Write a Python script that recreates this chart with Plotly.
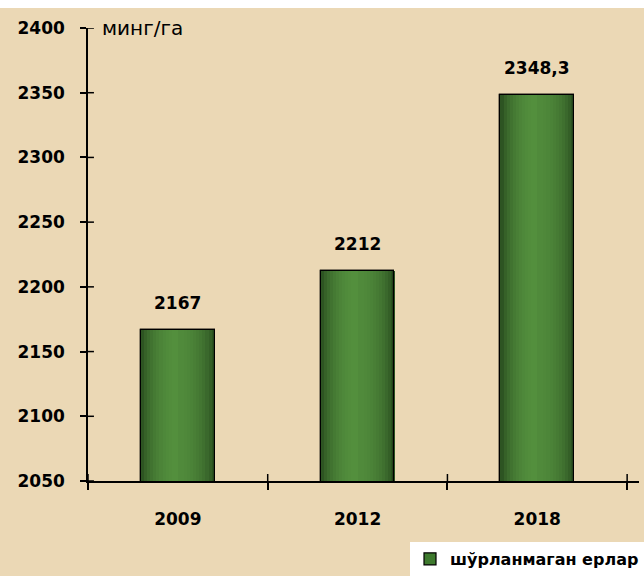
import math
import plotly.graph_objects as go

# Data
years = ["2009", "2012", "2018"]
areas = [2167, 2212, 2348.3]
value_labels = ["2167", "2212", "2348,3"]
series_name = "шўрланмаган ерлар"
unit_label = "минг/га"
y_ticks = [2050, 2100, 2150, 2200, 2250, 2300, 2350, 2400]

BAR_W = 0.41
N_SLICES = 24
FONT = "DejaVu Sans"


def shade(t):
    # cylinder-like shading: dark edges, light centre, right edge darker
    c = math.sin(math.pi * t) ** 0.6
    if t > 0.5:
        c *= 0.93
    dark = (36, 70, 28)
    light = (84, 144, 62)
    r, g, b = (int(d + (l - d) * c) for d, l in zip(dark, light))
    return f"rgb({r},{g},{b})"


fig = go.Figure()

# base bars (also supply the legend entry)
fig.add_trace(go.Bar(
    x=years, y=areas, width=BAR_W, name=series_name,
    marker=dict(color="#3E7A2E", line=dict(color="black", width=1.2)),
    showlegend=True, hoverinfo="skip",
))

# horizontal gradient made of thin slices
sw = BAR_W / N_SLICES
for k in range(N_SLICES):
    t = (k + 0.5) / N_SLICES
    fig.add_trace(go.Bar(
        x=years, y=areas, width=sw * 1.05, offset=-BAR_W / 2 + k * sw,
        marker=dict(color=shade(t), line=dict(width=0)),
        showlegend=False, hoverinfo="skip",
    ))

# outline on top
fig.add_trace(go.Bar(
    x=years, y=areas, width=BAR_W,
    marker=dict(color="rgba(0,0,0,0)", line=dict(color="black", width=1.2)),
    showlegend=False, hoverinfo="skip",
))

# value labels (category index positions)
for i, (v, lab) in enumerate(zip(areas, value_labels)):
    fig.add_annotation(x=i, y=v, text=f"<b>{lab}</b>", showarrow=False,
                       yshift=27, font=dict(family=FONT, size=17, color="black"))

# unit label next to the top tick
fig.add_annotation(xref="paper", yref="y", x=0.0216, y=y_ticks[-1], xanchor="left",
                   yanchor="middle", text=unit_label, showarrow=False,
                   font=dict(family=FONT, size=20, color="black"))

shapes = []
# inner halves of the crossing ticks
for i in range(len(years) + 1):
    shapes.append(dict(type="line", xref="x", yref="y domain", x0=i - 0.5, x1=i - 0.5,
                       y0=0, y1=7 / 454, line=dict(color="black", width=1.5)))
for v in y_ticks:
    shapes.append(dict(type="line", xref="x domain", yref="y", x0=0, x1=6 / 556,
                       y0=v, y1=v, line=dict(color="black", width=1.5)))
# white strip along the top edge
shapes.append(dict(type="rect", xref="paper", yref="paper", x0=-0.2, x1=1.1,
                   y0=1 + 20 / 454, y1=1.2, fillcolor="white", line=dict(width=0),
                   layer="above"))

fig.update_layout(
    width=644, height=576,
    margin=dict(l=88, r=0, t=28, b=94),
    paper_bgcolor="#EBD8B5",
    plot_bgcolor="rgba(0,0,0,0)",
    barmode="overlay",
    bargap=0,
    shapes=shapes,
    font=dict(family=FONT, color="black"),
    xaxis=dict(
        type="category", range=[-0.5, 2.566], tickson="boundaries",
        showline=True, linecolor="black", linewidth=1.5,
        ticks="outside", ticklen=7, tickwidth=1.5, tickcolor="black",
        showgrid=False, ticklabelstandoff=22,
        tickfont=dict(family=FONT, size=17, color="black", weight="bold"),
    ),
    yaxis=dict(
        range=[2050, 2400], tickvals=y_ticks,
        showline=True, linecolor="black", linewidth=1.5,
        ticks="outside", ticklen=6, tickwidth=1.5, tickcolor="black",
        showgrid=False, zeroline=False, ticklabelstandoff=12,
        tickfont=dict(family=FONT, size=17, color="black", weight="bold"),
    ),
    legend=dict(
        x=0.5845, y=-0.135, xanchor="left", yanchor="top",
        bgcolor="white", borderwidth=0,
        font=dict(family=FONT, size=16, color="black", weight="bold"),
        itemwidth=30,
    ),
)

fig.write_html("out.html")
